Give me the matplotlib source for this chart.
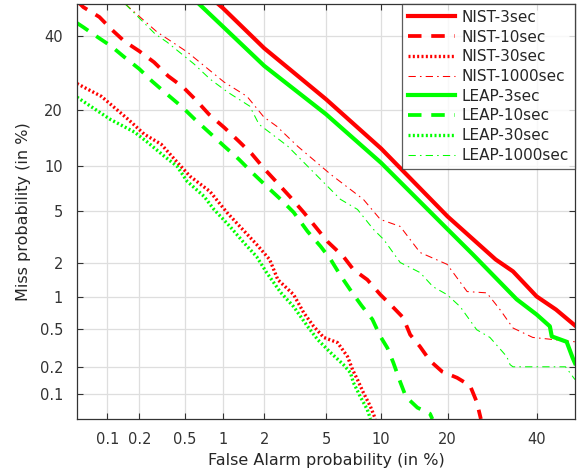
import numpy as np
import matplotlib
matplotlib.use("Agg")
import matplotlib.pyplot as plt
from statistics import NormalDist

# ---- data (percent) ----
nist3_fa = [0.92, 1.0, 2.0, 3.0, 5.0, 10.0, 20.0, 30.0, 34.1, 40.0, 45.0, 50.0]
nist3_miss = [50, 48.7, 36.3, 30.1, 22.5, 12.6, 4.6, 2.14, 1.70, 1.02, 0.77, 0.54]

nist10_fa = [0.05, 0.058, 0.0837, 0.109, 0.145, 0.2, 0.271, 0.359, 0.480, 0.614, 0.778, 1.02,
             1.32, 1.64, 2.02, 2.44, 3.01, 3.65, 5.10, 6.30, 7.16, 8.50, 9.92, 11.4, 12.8,
             13.8, 15.3, 16.9, 19.0, 21.8, 24.4, 25.8, 26.7]
nist10_miss = [51, 49.0, 45.9, 42.1, 38.4, 35.4, 32.2, 28.4, 25.5, 22.3, 19.1, 16.4, 13.8,
               11.7, 9.49, 7.87, 6.26, 4.93, 2.98, 2.26, 1.76, 1.44, 1.06, 0.82, 0.646,
               0.438, 0.329, 0.234, 0.178, 0.152, 0.124, 0.0805, 0.05]

nist30_fa = [0.05, 0.0875, 0.158, 0.221, 0.313, 0.428, 0.548, 0.793, 1.07, 1.34, 1.77, 2.18,
             2.48, 3.15, 3.65, 4.21, 4.84, 5.83, 6.64, 7.08, 7.53, 8.10, 8.83, 9.36]
nist30_miss = [26.4, 23.2, 18.0, 15.1, 13.3, 10.5, 8.60, 6.86, 4.93, 3.89, 2.83, 2.14,
               1.44, 1.06, 0.72, 0.53, 0.41, 0.363, 0.259, 0.187, 0.145, 0.103, 0.0704, 0.05]

nist1000_fa = [0.148, 0.288, 0.519, 1.02, 1.51, 1.99, 2.44, 3.34, 5.32, 8.10, 9.92, 12.4,
               15.3, 19.9, 23.8, 28.0, 31.0, 34.1, 39.0, 50.0]
nist1000_miss = [50, 41.2, 35.2, 26.8, 23.2, 18.5, 16.6, 12.97, 8.84, 6.07, 4.38, 3.89,
                 2.44, 1.95, 1.13, 1.10, 0.77, 0.51, 0.41, 0.37]

leap3_fa = [0.65, 1.0, 2.0, 3.0, 5.0, 10.0, 20.0, 25.0, 35.0, 40.0, 43.4, 43.9, 47.8, 49.4, 50.0]
leap3_miss = [50, 42.9, 31.2, 25.7, 19.1, 10.4, 3.70, 2.35, 0.96, 0.69, 0.53, 0.42, 0.37, 0.25, 0.22]

leap10_fa = [0.05, 0.058, 0.080, 0.109, 0.145, 0.2, 0.260, 0.352, 0.472, 0.602, 0.793, 1.02,
             1.32, 1.64, 2.08, 2.59, 3.15, 3.86, 4.64, 5.32, 6.06, 6.98, 7.92, 9.03, 9.92,
             10.75, 11.5, 12.4, 13.2, 14.9, 16.9, 17.3]
leap10_miss = [44, 42.7, 39.7, 36.9, 33.7, 30.3, 27.0, 23.7, 20.7, 18.0, 15.3, 13.0, 10.9,
               9.09, 7.41, 6.07, 4.93, 3.57, 2.73, 2.14, 1.57, 1.13, 0.84, 0.62, 0.42,
               0.32, 0.223, 0.137, 0.092, 0.0685, 0.058, 0.05]

leap30_fa = [0.05, 0.107, 0.180, 0.235, 0.331, 0.428, 0.519, 0.712, 0.852, 1.13, 1.43, 1.77,
             2.08, 2.59, 3.15, 3.86, 4.45, 5.32, 6.30, 6.89, 7.16, 7.81, 8.50, 8.83]
leap30_miss = [23.0, 18.0, 15.5, 13.7, 11.4, 9.91, 7.99, 6.36, 5.17, 3.89, 2.93, 2.26,
               1.66, 1.11, 0.82, 0.53, 0.39, 0.285, 0.212, 0.173, 0.134, 0.0922, 0.0648, 0.05]

leap1000_fa = [0.148, 0.277, 0.352, 0.592, 0.793, 1.09, 1.58, 1.84, 2.88, 4.33, 6.06, 7.53,
               9.14, 10.3, 12.4, 15.3, 17.4, 19.9, 22.4, 25.8, 28.7, 32.6, 33.4, 34.1, 47.5, 50.0]
leap1000_miss = [50, 40.6, 38.1, 31.7, 27.6, 24.2, 20.9, 17.0, 13.0, 8.84, 6.07, 5.17,
                 3.70, 3.10, 2.02, 1.66, 1.25, 1.06, 0.82, 0.49, 0.41, 0.259, 0.212, 0.201,
                 0.201, 0.145]

tick_vals = [0.1, 0.2, 0.5, 1, 2, 5, 10, 20, 40]
tick_labels = ["0.1", "0.2", "0.5", "1", "2", "5", "10", "20", "40"]

# ---- probit (normal deviate) scale ----
_nd = NormalDist()
_ppf = np.vectorize(_nd.inv_cdf, otypes=[float])
_cdf = np.vectorize(_nd.cdf, otypes=[float])


def fwd(p):
    p = np.clip(np.asarray(p, dtype=float) / 100.0, 1e-9, 1 - 1e-9)
    return _ppf(p)


def inv(z):
    return _cdf(np.asarray(z, dtype=float)) * 100.0


plt.rcParams["font.family"] = ["DejaVu Sans"]
fig = plt.figure(figsize=(5.8, 4.73), dpi=100)
ax = fig.add_axes([77 / 580, 1 - 419 / 473, (575 - 77) / 580, (419 - 4) / 473])
ax.set_xscale("function", functions=(fwd, inv))
ax.set_yscale("function", functions=(fwd, inv))

RED = "#ff0000"
GREEN = "#00ff00"
thick = 3.0
dash = (0, (3.6, 2.6))
dot = (0, (0.6, 0.7))
dashdot = (0, (7, 4, 1.5, 4))

series = [
    (nist3_fa, nist3_miss, RED, "-", thick, "NIST-3sec"),
    (nist10_fa, nist10_miss, RED, dash, 2.7, "NIST-10sec"),
    (nist30_fa, nist30_miss, RED, dot, 2.4, "NIST-30sec"),
    (nist1000_fa, nist1000_miss, RED, dashdot, 0.75, "NIST-1000sec"),
    (leap3_fa, leap3_miss, GREEN, "-", thick, "LEAP-3sec"),
    (leap10_fa, leap10_miss, GREEN, dash, 2.7, "LEAP-10sec"),
    (leap30_fa, leap30_miss, GREEN, dot, 2.4, "LEAP-30sec"),
    (leap1000_fa, leap1000_miss, GREEN, dashdot, 0.75, "LEAP-1000sec"),
]
for fa, miss, c, ls, lw, lab in series:
    ax.plot(fa, miss, color=c, linestyle=ls, linewidth=lw, label=lab)

ax.set_xlim(0.05, 50)
ax.set_ylim(0.05, 50)
ax.set_xticks(tick_vals)
ax.set_xticklabels(tick_labels)
ax.set_yticks(tick_vals)
ax.set_yticklabels(tick_labels)
ax.minorticks_off()
ax.grid(True, color="#dedede", linewidth=0.9)
ax.set_axisbelow(True)
ax.tick_params(direction="in", top=True, right=True, length=4, width=0.8,
               color="#333333", labelsize=10.5, labelcolor="#333333")
ax.tick_params(axis="x", pad=9)
ax.tick_params(axis="y", pad=10)
for s in ax.spines.values():
    s.set_color("#333333")
    s.set_linewidth(0.9)

ax.set_xlabel("False Alarm probability (in %)", fontsize=11.5, color="#262626", labelpad=5)
ax.set_ylabel("Miss probability (in %)", fontsize=11.5, color="#262626", labelpad=6)

leg = ax.legend(loc="upper right", fontsize=11, frameon=True, fancybox=False,
                borderaxespad=0, handlelength=3.1, handletextpad=0.45,
                labelspacing=0.31, borderpad=0.38)
leg.get_frame().set_edgecolor("#333333")
leg.get_frame().set_linewidth(0.9)
for t in leg.get_texts():
    t.set_color("#262626")

fig.savefig("out.png", dpi=100)
